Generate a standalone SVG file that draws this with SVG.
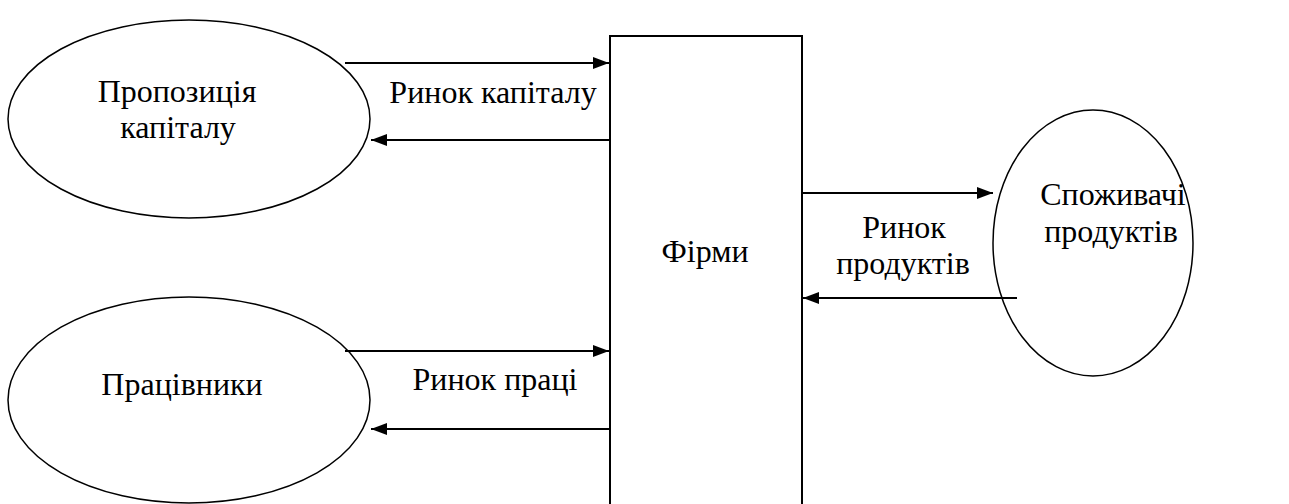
<svg xmlns="http://www.w3.org/2000/svg" width="1289" height="504" viewBox="0 0 1289 504">
<defs>
<style>
.node{fill:#fff;stroke:#000;stroke-width:1.5}
.box{fill:#fff;stroke:#000;stroke-width:2}
.conn{stroke:#000;stroke-width:2.2;fill:none}
</style>
<marker id="ah" viewBox="0 0 16 12" refX="16" refY="6" markerWidth="16" markerHeight="12" markerUnits="userSpaceOnUse" orient="auto">
<path d="M0,0 L16,6 L0,12 Z" fill="#000"/>
</marker>
</defs>
<rect width="1289" height="504" fill="#fff"/>
<g font-family="Liberation Serif, Times New Roman, serif" font-size="32" fill="#000" text-anchor="middle">
<g id="supply-capital">
<ellipse class="node" cx="189" cy="119" rx="181" ry="99"/>
<text x="177" y="102">Пропозиція</text>
<text x="178" y="138">капіталу</text>
</g>
<g id="workers">
<ellipse class="node" cx="189" cy="400" rx="181" ry="103"/>
<text x="182" y="395">Працівники</text>
</g>
<g id="firms">
<rect class="box" x="610" y="36" width="192" height="480"/>
<text x="705" y="262">Фірми</text>
</g>
<g id="consumers">
<ellipse class="node" cx="1093" cy="243" rx="100" ry="133"/>
<text x="1113" y="205">Споживачі</text>
<text x="1111" y="242">продуктів</text>
</g>
<g id="connectors">
<line class="conn" x1="345" y1="63" x2="609" y2="63" marker-end="url(#ah)"/>
<line class="conn" x1="609" y1="140" x2="371" y2="140" marker-end="url(#ah)"/>
<line class="conn" x1="345" y1="351" x2="609" y2="351" marker-end="url(#ah)"/>
<line class="conn" x1="609" y1="429" x2="371" y2="429" marker-end="url(#ah)"/>
<line class="conn" x1="802" y1="193" x2="993" y2="193" marker-end="url(#ah)"/>
<line class="conn" x1="1017" y1="298" x2="803" y2="298" marker-end="url(#ah)"/>
<text x="493" y="103">Ринок капіталу</text>
<text x="495" y="390">Ринок праці</text>
<text x="904" y="238">Ринок</text>
<text x="903" y="274">продуктів</text>
</g>
</g>
</svg>
